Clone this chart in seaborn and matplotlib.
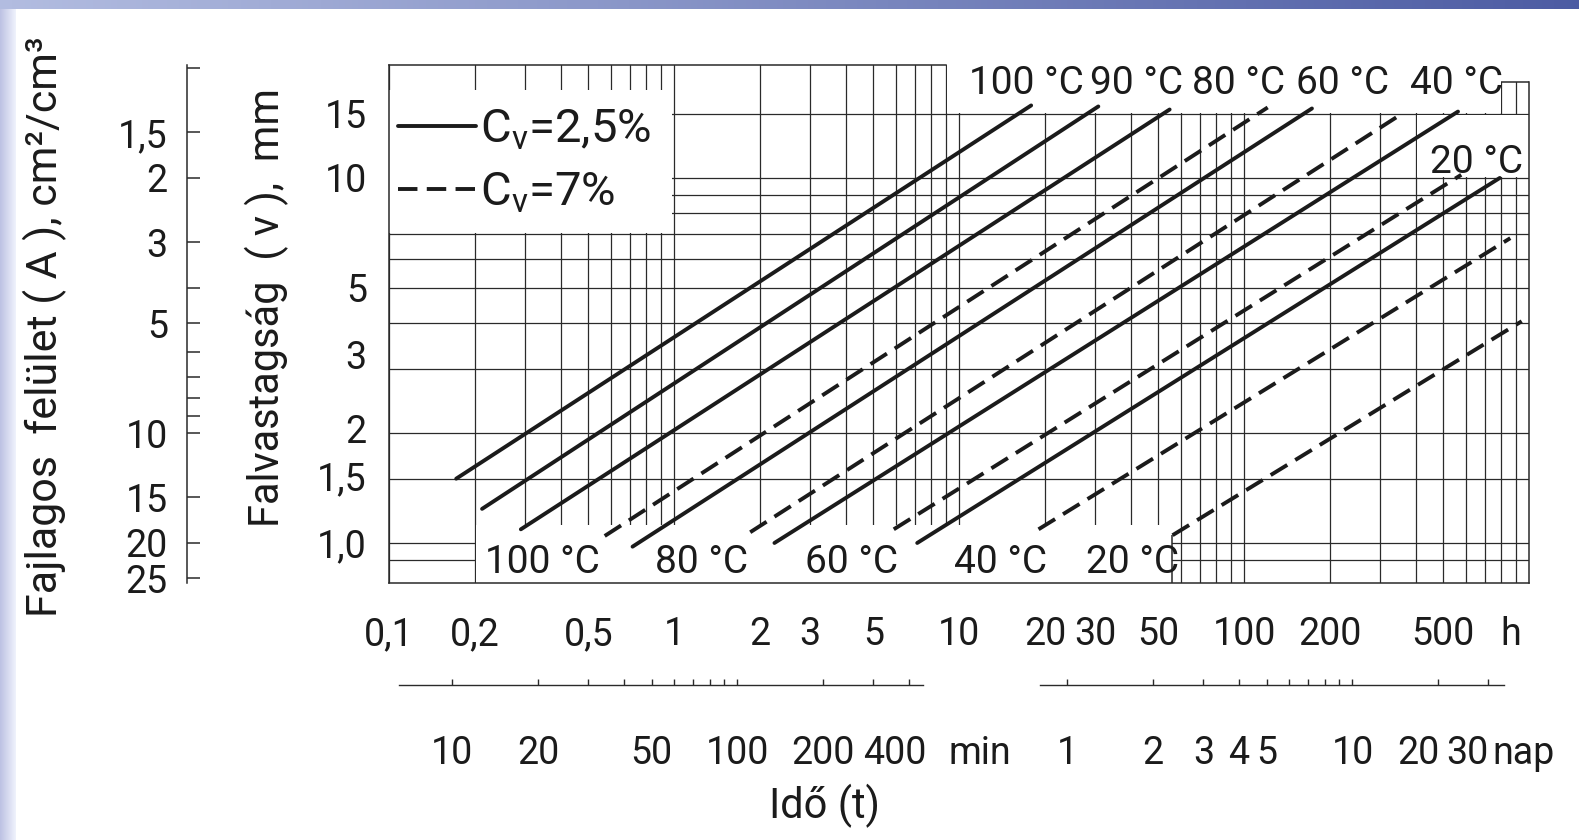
import numpy as np
import pandas as pd
import matplotlib
matplotlib.use("Agg")
import matplotlib.pyplot as plt
import matplotlib.transforms as mtransforms
from matplotlib.patches import Rectangle
from matplotlib.ticker import NullFormatter
import seaborn as sns

sns.set_theme(style="white")
FONT = ["Roboto", "DejaVu Sans"]
plt.rcParams["font.family"] = FONT
plt.rcParams["mathtext.fontset"] = "custom"
for key in ("mathtext.rm", "mathtext.it", "mathtext.sf", "mathtext.bf"):
    plt.rcParams[key] = "Roboto"

# ------------------------------------------------------------------ data
# isotherms: wall thickness v (mm) reached after time t (h), two moisture levels
iso_temp = ["100 °C", "90 °C", "80 °C", "60 °C", "40 °C", "20 °C",
            "100 °C", "80 °C", "60 °C", "40 °C", "20 °C"]
iso_cv = ["2,5%"] * 6 + ["7%"] * 5
t_start = [0.172, 0.212, 0.29, 0.715, 2.25, 7.13, 0.571, 1.85, 5.9, 19.0, 56.1]
t_end = [17.9, 30.8, 54.8, 173.0, 563.0, 789.0, 121.0, 363.0, 578.0, 859.0, 942.0]
v_start = [1.50, 1.24, 1.09, 0.977, 1.00, 1.00, 1.045, 1.07, 1.09, 1.09, 1.05]
v_end = [15.8, 15.7, 15.4, 15.5, 15.2, 10.0, 15.6, 15.1, 10.2, 6.84, 4.05]

# time axis (hours)
hour_ticks = [0.1, 0.2, 0.5, 1, 2, 3, 5, 10, 20, 30, 50, 100, 200, 500]
hour_labels = ["0,1", "0,2", "0,5", "1", "2", "3", "5", "10", "20", "30",
               "50", "100", "200", "500"]
# wall thickness axis (mm)
thick_ticks = [1.0, 1.5, 2, 3, 5, 10, 15]
thick_labels = ["1,0", "1,5", "2", "3", "5", "10", "15"]
thick_minor = [0.9, 4, 6, 7, 8, 9]
# specific surface scale A = 20 / v  (cm2/cm3)
area_ticks = [1.5, 2, 3, 5, 10, 15, 20, 25]
area_labels = ["1,5", "2", "3", "5", "10", "15", "20", "25"]
area_minor = [1, 4, 6, 7, 8, 9]
# conversion scales below the time axis
minute_ticks = [10, 20, 50, 100, 200, 400]
minute_minor = [30, 40, 60, 70, 80, 90, 300]
day_ticks = [1, 2, 3, 4, 5, 10, 20, 30]
day_minor = [6, 7, 8, 9]

# curve labels
top_label_text = ["100 °C", "90 °C", "80 °C", "60 °C", "40 °C"]
top_label_t = [17.3, 42.1, 95.3, 221.0, 555.0]
bottom_label_text = ["100 °C", "80 °C", "60 °C", "40 °C", "20 °C"]
bottom_label_t = [0.344, 1.25, 4.21, 14.0, 40.5]

# ------------------------------------------------------------------ style
INK = "#1b1b1b"
GRID = "#2a2a2a"
FS = 27
FS_CURVE = 28
FS_TITLE = 30
FS_LEGEND = 34
XLIM = (0.1, 1000)
YLIM = (0.777, 20.4)

fig = plt.figure(figsize=(15.79, 8.40), dpi=100)
fig.patch.set_facecolor("white")

# tinted page border along the top and left edge
bg = fig.add_axes([0, 0, 1, 1], zorder=-10)
bg.axis("off")
g = np.linspace(0, 1, 256)[:, None]
top_img = (np.array([0.70, 0.74, 0.88]) * (1 - g) + np.array([0.30, 0.36, 0.64]) * g)[None, :, :]
bg.imshow(top_img, extent=(0, 1579, 9, 0), aspect="auto")
g2 = np.linspace(0, 1, 32)[:, None]
left_img = (np.array([0.74, 0.76, 0.89]) * (1 - g2) + np.array([0.94, 0.95, 0.99]) * g2)[None, :, :]
bg.imshow(left_img, extent=(0, 16, 840, 9), aspect="auto")
bg.set_xlim(0, 1579)
bg.set_ylim(840, 0)

ax = fig.add_axes([0.2464, 0.3060, 0.7220, 0.6167])
ax.set_xscale("log")
ax.set_yscale("log")
ax.set_xlim(*XLIM)
ax.set_ylim(*YLIM)
ax.set_axisbelow(True)

# ------------------------------------------------------------------ curves
rows = []
for i in range(len(iso_temp)):
    rows.append({"line": i, "T": iso_temp[i], "Cv": iso_cv[i], "t": t_start[i], "v": v_start[i]})
    rows.append({"line": i, "T": iso_temp[i], "Cv": iso_cv[i], "t": t_end[i], "v": v_end[i]})
df = pd.DataFrame(rows)

sns.lineplot(data=df, x="t", y="v", units="line", estimator=None, sort=False,
             style="Cv", style_order=["2,5%", "7%"],
             dashes={"2,5%": "", "7%": (5, 2.4)},
             color=INK, linewidth=2.8, zorder=3, ax=ax)
ax.set_xlim(*XLIM)
ax.set_ylim(*YLIM)

handles, labels = ax.get_legend_handles_labels()
legend_text = {"2,5%": r"$\mathrm{C_v}$=2,5%", "7%": r"$\mathrm{C_v}$=7%"}
pairs = [(h, legend_text[l]) for h, l in zip(handles, labels) if l in legend_text]
leg = ax.legend([p[0] for p in pairs], [p[1] for p in pairs], loc="upper left",
                bbox_to_anchor=(0.008, 0.918), frameon=False, fontsize=FS_LEGEND,
                handlelength=1.65, handletextpad=0.08, labelspacing=0.4,
                borderpad=0, borderaxespad=0)
leg.set_zorder(5)
for txt in leg.get_texts():
    txt.set_color(INK)

# ------------------------------------------------------------------ grid
x_minor = [k * 10.0 ** e for e in (-1, 0, 1, 2) for k in range(2, 10)]
ax.set_xticks(hour_ticks, labels=hour_labels)
ax.set_xticks(x_minor, minor=True)
ax.xaxis.set_minor_formatter(NullFormatter())
ax.set_yticks(thick_ticks, labels=thick_labels)
ax.set_yticks(thick_minor, minor=True)
ax.yaxis.set_minor_formatter(NullFormatter())
ax.tick_params(axis="both", which="both", length=0, labelsize=FS, labelcolor=INK)
ax.tick_params(axis="x", pad=24)
ax.tick_params(axis="y", pad=16)
ax.grid(True, which="both", color=GRID, linewidth=0.9)

# blank panels kept free of grid for the legend and curve labels
def blank(x0, x1, y0, y1):
    ax.add_patch(Rectangle((x0, y0), x1 - x0, y1 - y0, facecolor="white",
                           edgecolor="none", zorder=1.5))

blank(0.09, 0.985, 7.06, 17.4)       # legend panel
blank(9.06, 796, 15.08, 40)          # header strip for the upper labels
blank(796, 2000, 18.3, 40)
blank(403, 2000, 10.08, 14.92)       # panel for the right-hand label
blank(0.2015, 56.0, 0.5, 1.12)       # strip for the lower labels

for side in ("left", "right", "top", "bottom"):
    ax.spines[side].set_color(GRID)
    ax.spines[side].set_linewidth(1.1)
ax.spines["top"].set_bounds(0.1, 9)
ax.spines["right"].set_bounds(YLIM[0], 18.3)
ax.hlines(18.3, 800, 1000, colors=GRID, linewidth=1.1, zorder=2.5)
ax.vlines(56.0, YLIM[0], 1.05, colors=GRID, linewidth=1.1, zorder=2.5)

# ------------------------------------------------------------------ labels on curves
for t, lab in zip(top_label_t, top_label_text):
    ax.text(t, 18.2, lab, ha="center", va="center", fontsize=FS_CURVE, color=INK, zorder=4)
ax.text(652, 11.0, "20 °C", ha="center", va="center", fontsize=FS_CURVE, color=INK, zorder=4)
for t, lab in zip(bottom_label_t, bottom_label_text):
    ax.text(t, 0.885, lab, ha="center", va="center", fontsize=FS_CURVE, color=INK, zorder=4)

ax.set_xlabel("")
ax.set_ylabel("Falvastagság  ( v ),  mm", fontsize=FS_TITLE, color=INK, va="center")
ax.yaxis.set_label_coords(-0.107, 0.531)

# ------------------------------------------------------------------ specific surface scale
secA = ax.secondary_yaxis(-0.177, functions=(lambda v: 20.0 / v, lambda a: 20.0 / a))
secA.set_yticks(area_ticks, labels=area_labels)
secA.set_yticks(area_minor, minor=True)
secA.yaxis.set_minor_formatter(NullFormatter())
secA.tick_params(axis="y", which="both", direction="in", length=9, width=1.1,
                 color=GRID, labelsize=FS, labelcolor=INK, pad=14)
secA.spines["left"].set_color(GRID)
secA.spines["left"].set_linewidth(1.1)
secA.set_ylabel("Fajlagos  felület ( A ), cm²/cm³", fontsize=31, color=INK, va="center")
secA.yaxis.set_label_coords(-0.302, 0.494, transform=ax.transAxes)

# ------------------------------------------------------------------ minute / day scales
SCALE_POS = -0.197
SCALE_PAD = 36
secM = ax.secondary_xaxis(SCALE_POS, functions=(lambda h: h * 60.0, lambda m: m / 60.0))
secM.set_xticks(minute_ticks, labels=[str(m) for m in minute_ticks])
secM.set_xticks(minute_minor, minor=True)
secD = ax.secondary_xaxis(SCALE_POS, functions=(lambda h: h / 24.0, lambda d: d * 24.0))
secD.set_xticks(day_ticks, labels=[str(d) for d in day_ticks])
secD.set_xticks(day_minor, minor=True)
for sec, bounds in ((secM, (6.5, 450)), (secD, (0.8, 34))):
    sec.xaxis.set_minor_formatter(NullFormatter())
    sec.tick_params(axis="x", which="both", direction="in", length=4.5, width=1.0,
                    color=GRID, labelsize=FS, labelcolor=INK, pad=SCALE_PAD)
    sec.spines["bottom"].set_color(GRID)
    sec.spines["bottom"].set_linewidth(1.0)
    sec.spines["bottom"].set_bounds(*bounds)

# unit words next to the scales
hour_row = mtransforms.offset_copy(ax.transAxes, fig=fig, y=-24, units="points")
ax.text(0.984, 0.0, "h", transform=hour_row, ha="center", va="top", fontsize=FS, color=INK)
scale_row = mtransforms.offset_copy(ax.transAxes, fig=fig, y=-SCALE_PAD, units="points")
ax.text(0.518, SCALE_POS, "min", transform=scale_row, ha="center", va="top", fontsize=FS, color=INK)
ax.text(0.968, SCALE_POS, "nap", transform=scale_row, ha="left", va="top", fontsize=FS, color=INK)
ax.text(0.382, -0.431, "Idő (t)", transform=ax.transAxes, ha="center", va="center",
        fontsize=FS_TITLE, color=INK)

# ------------------------------------------------------------------ label spacing tweaks
fig.canvas.draw()

def nudge(axis, shifts):
    for tick in axis.get_major_ticks():
        loc = tick.get_loc()
        for value, (dx, dy) in shifts.items():
            if np.isclose(loc, value):
                off = mtransforms.ScaledTranslation(dx / 72.0, dy / 72.0, fig.dpi_scale_trans)
                tick.label1.set_transform(tick.label1.get_transform() + off)

nudge(ax.yaxis, {3: (0, 10), 2: (0, 3), 1.5: (0, 2)})
nudge(secM.xaxis, {400: (-10, 0)})
nudge(secD.xaxis, {20: (-14, 0), 30: (-15, 0)})

fig.savefig("out.png", dpi=100, facecolor="white")
